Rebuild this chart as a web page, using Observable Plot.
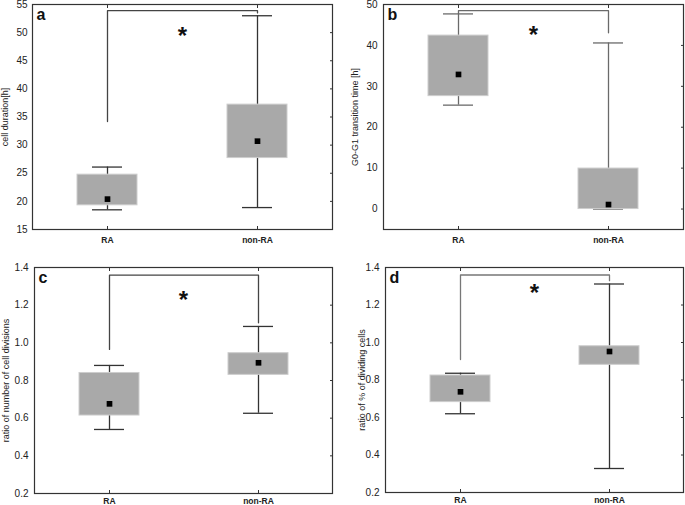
<!DOCTYPE html>
<html>
<head>
<meta charset="utf-8">
<script src="https://cdn.jsdelivr.net/npm/d3@7"></script>
<script src="https://cdn.jsdelivr.net/npm/@observablehq/plot@0.6"></script>
<style>
  body { margin: 0; background: #fff; }
  #chart { position: relative; width: 685px; height: 505px; background: #fff; }
  #chart svg { position: absolute; }
</style>
</head>
<body>
<div id="chart"></div>
<script>
// ---- data (one row per panel a, b, c, d; each row = [RA, non-RA]) ----
const groups = ["RA", "non-RA"];
const panelLetters = ["a", "b", "c", "d"];
const yLabels = [
  "cell duration[h]",
  "G0-G1 transition time [h]",
  "ratio of number of cell divisions",
  "ratio of % of dividing cells"
];
const yDomains = [[15, 55], [-5, 50], [0.2, 1.4], [0.2, 1.4]];
const yTicks = [
  [15, 20, 25, 30, 35, 40, 45, 50, 55],
  [0, 10, 20, 30, 40, 50],
  [0.2, 0.4, 0.6, 0.8, 1.0, 1.2, 1.4],
  [0.2, 0.4, 0.6, 0.8, 1.0, 1.2, 1.4]
];
const whiskerLow  = [[18.5, 18.9], [25.4, 0],    [0.54, 0.626], [0.62, 0.328]];
const boxLow      = [[19.3, 27.7], [27.6, 0],    [0.614, 0.83], [0.682, 0.881]];
const boxHigh     = [[24.75, 37.2],[42.4, 9.9],  [0.84, 0.945], [0.824, 0.98]];
const whiskerHigh = [[26.1, 53.0], [47.7, 40.6], [0.88, 1.087], [0.836, 1.312]];
const centre      = [[20.4, 30.7], [32.9, 1.1],  [0.676, 0.894],[0.737, 0.952]];
// significance bracket: [RA end, top, non-RA end] and star position
const bracketRA    = [34.2, 47.7, 0.965, 0.909];
const bracketTop   = [53.9, 48.5, 1.359, 1.36];
const bracketNonRA = [53.5, 43.1, 1.106, 1.33];
const starY        = [50.0, 43.5, 1.247, 1.285];

// ---- layout ----
const layouts = [
  {left: 0,   top: 0,   width: 340, height: 250, ml: 32, mr: 8, mt: 4,  mb: 21, lab: 27, tp: 5, xp: 7, wc: "#333", bc: "#444"},
  {left: 340, top: 0,   width: 345, height: 250, ml: 43, mr: 2, mt: 4,  mb: 21, lab: 28, tp: 6, xp: 7, wc: "#6a6a6a", bc: "#6a6a6a"},
  {left: 0,   top: 250, width: 340, height: 255, ml: 34, mr: 8, mt: 17, mb: 12, lab: 28, tp: 6, xp: 4, wc: "#333", bc: "#444"},
  {left: 340, top: 250, width: 345, height: 255, ml: 45, mr: 2, mt: 17, mb: 13, lab: 23, tp: 6, xp: 4, wc: "#333", bc: "#777"}
];

const chart = document.getElementById("chart");

panelLetters.forEach((letter, i) => {
  const L = layouts[i];
  const rows = groups.map((g, j) => ({
    group: g,
    wl: whiskerLow[i][j], bl: boxLow[i][j], bh: boxHigh[i][j],
    wh: whiskerHigh[i][j], m: centre[i][j]
  }));
  const bracket = [
    {group: groups[0], v: bracketRA[i]},
    {group: groups[0], v: bracketTop[i]},
    {group: groups[1], v: bracketTop[i]},
    {group: groups[1], v: bracketNonRA[i]}
  ];
  const fmt = i >= 2 ? d3.format(".1f") : d3.format("d");
  const svg = Plot.plot({
    width: L.width, height: L.height,
    marginLeft: L.ml, marginRight: L.mr, marginTop: L.mt, marginBottom: L.mb,
    style: {fontFamily: "'Liberation Sans', Arial, sans-serif", fontSize: "10px", background: "white", color: "#222", overflow: "visible"},
    x: {type: "band", domain: groups, paddingInner: 0.6, paddingOuter: 0.3, label: null},
    y: {domain: yDomains[i], label: null},
    marks: [
      Plot.ruleX(rows, {x: "group", y1: "wl", y2: "wh", stroke: L.wc, strokeWidth: 1.3}),
      Plot.tickY(rows, {x: "group", y: "wl", insetLeft: 15, insetRight: 15, stroke: L.wc, strokeWidth: 1.3}),
      Plot.tickY(rows, {x: "group", y: "wh", insetLeft: 15, insetRight: 15, stroke: L.wc, strokeWidth: 1.3}),
      Plot.barY(rows, {x: "group", y1: "bl", y2: "bh", fill: "#a9a9a9", stroke: "#cdcdcd", strokeWidth: 1}),
      Plot.dot(rows, {x: "group", y: "m", symbol: "square", r: 3.2, fill: "#000", stroke: null}),
      Plot.line(bracket, {x: "group", y: "v", stroke: L.bc, strokeWidth: 1.3}),
      Plot.text([starY[i]], {y: d => d, text: () => "*", fontSize: 24, fontWeight: "bold", dy: 4, fill: "#111"}),
      Plot.text([letter], {frameAnchor: "top-left", text: d => d, dx: 4, dy: 4, fontSize: 16, fontWeight: "bold", fill: "#111"}),
      Plot.text([yLabels[i]], {frameAnchor: "left", textAnchor: "middle", text: d => d, rotate: -90, dx: -L.lab, fontSize: 9, fill: "#222"}),
      Plot.axisY({ticks: yTicks[i], tickSize: 0, tickPadding: L.tp, tickFormat: fmt, label: null, fill: "#222"}),
      Plot.axisY({anchor: "right", ticks: yTicks[i], tickSize: -3, tickFormat: () => "", label: null, stroke: "#333"}),
      Plot.axisX({anchor: "bottom", tickSize: 0, tickPadding: L.xp, fontWeight: "bold", fontSize: 8.5, label: null, fill: "#222"}),
      Plot.axisX({anchor: "bottom", tickSize: -3, tickFormat: () => "", label: null, stroke: "#333"}),
      Plot.axisX({anchor: "top", tickSize: -3, tickFormat: () => "", label: null, stroke: "#333"}),
      Plot.frame({stroke: "#333", strokeWidth: 1.2})
    ]
  });
  svg.style.left = L.left + "px";
  svg.style.top = L.top + "px";
  chart.appendChild(svg);
});
</script>
</body>
</html>
